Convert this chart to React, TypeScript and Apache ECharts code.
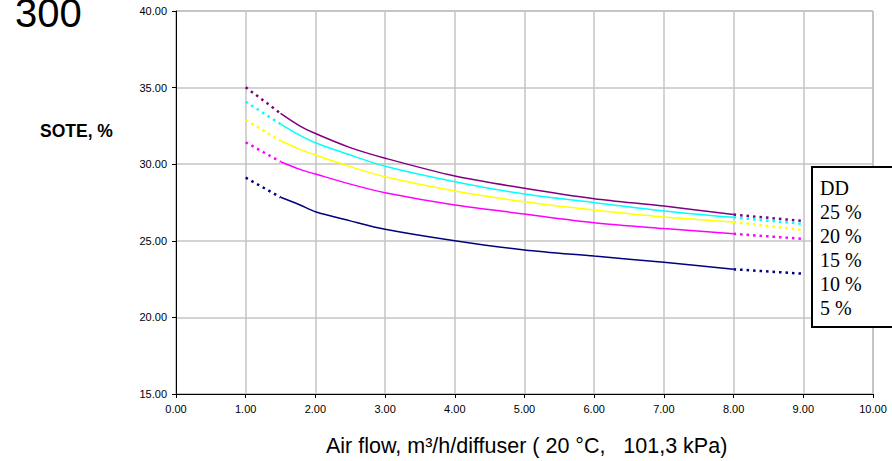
import React, { useEffect, useRef } from "react";
import * as echarts from "echarts";

// Air flow, m3/h/diffuser
const airFlow = [1, 1.5, 1.78, 2, 2.5, 3, 4, 5, 6, 7, 8, 9];
// SOTE, % for each diffuser density (DD)
const dd25 = [35.02, 33.32, 32.49, 32.0, 31.08, 30.39, 29.23, 28.43, 27.75, 27.27, 26.71, 26.29];
const dd20 = [34.08, 32.62, 31.88, 31.4, 30.6, 29.87, 28.86, 28.05, 27.49, 26.95, 26.53, 26.1];
const dd15 = [32.89, 31.53, 30.97, 30.6, 29.84, 29.18, 28.25, 27.55, 27.01, 26.55, 26.23, 25.7];
const dd10 = [31.43, 30.16, 29.66, 29.36, 28.7, 28.14, 27.34, 26.75, 26.18, 25.8, 25.46, 25.12];
const dd5 = [29.12, 27.84, 27.34, 26.9, 26.3, 25.75, 25.0, 24.4, 24.0, 23.6, 23.14, 22.85];

const seriesNames = ["25 %", "20 %", "15 %", "10 %", "5 %"];
const seriesValues = [dd25, dd20, dd15, dd10, dd5];
const seriesColors = ["#800080", "#00FFFF", "#FFFF00", "#FF00FF", "#000080"];
const legendTitle = "DD";
const xTitle = "Air flow, m³/h/diffuser ( 20 °C,   101,3 kPa)";
const yTitle = "SOTE, %";
const cornerTitle = "300";

// index ranges: dotted start, solid middle, dotted end
const solidFrom = 1;
const solidTo = 10;

export default function App() {
  const ref = useRef<HTMLDivElement>(null);
  useEffect(() => {
    if (!ref.current) return;
    const chart = echarts.init(ref.current, null, { renderer: "svg" });
    const series: any[] = [];
    seriesValues.forEach((vals, i) => {
      const pts = airFlow.map((x, j) => [x, vals[j]]);
      const color = seriesColors[i];
      series.push({
        type: "line",
        name: seriesNames[i] + " a",
        data: pts.slice(0, solidFrom + 1),
        showSymbol: false,
        lineStyle: { color, width: 2.5, type: [2.5, 4] },
      });
      series.push({
        type: "line",
        name: seriesNames[i],
        data: pts.slice(solidFrom, solidTo + 1),
        showSymbol: false,
        smooth: 0.3,
        lineStyle: { color, width: 1.5 },
      });
      series.push({
        type: "line",
        name: seriesNames[i] + " b",
        data: pts.slice(solidTo),
        showSymbol: false,
        lineStyle: { color, width: 2.5, type: [2.5, 4] },
      });
    });

    const legendTexts = [legendTitle, ...seriesNames].map((t, k) => ({
      type: "text",
      left: 820,
      top: 178 + k * 24,
      z: 101,
      style: {
        text: t,
        fill: "#000",
        font: "20px 'Liberation Serif', 'Times New Roman', serif",
      },
    }));

    chart.setOption({
      animation: false,
      backgroundColor: "#fff",
      grid: {
        left: 176,
        right: 19,
        top: 11,
        bottom: 67,
        show: true,
        borderColor: "#8c8c8c",
        borderWidth: 1,
      },
      xAxis: {
        type: "value",
        min: 0,
        max: 10,
        interval: 1,
        axisLine: { show: true, lineStyle: { color: "#000", width: 1 } },
        axisTick: { show: true, length: 4, lineStyle: { color: "#000" } },
        axisLabel: {
          color: "#000",
          fontSize: 11,
          fontFamily: "'Liberation Sans', Arial, sans-serif",
          margin: 9,
          formatter: (v: number) => v.toFixed(2),
        },
        splitLine: { show: true, lineStyle: { color: "#c4c4c4", width: 1.5 } },
      },
      yAxis: {
        type: "value",
        min: 15,
        max: 40,
        interval: 5,
        axisLine: { show: true, lineStyle: { color: "#000", width: 1 } },
        axisTick: { show: true, length: 4, lineStyle: { color: "#000" } },
        axisLabel: {
          color: "#000",
          fontSize: 11,
          fontFamily: "'Liberation Sans', Arial, sans-serif",
          margin: 9,
          formatter: (v: number) => v.toFixed(2),
        },
        splitLine: { show: true, lineStyle: { color: "#c4c4c4", width: 1.5 } },
      },
      series,
      graphic: [
        {
          type: "text",
          left: 15,
          top: -7,
          style: {
            text: cornerTitle,
            fill: "#000",
            font: "40px 'Liberation Sans', Arial, sans-serif",
          },
        },
        {
          type: "text",
          left: 40,
          top: 122,
          style: {
            text: yTitle,
            fill: "#000",
            font: "bold 17.5px 'Liberation Sans', Arial, sans-serif",
          },
        },
        {
          type: "text",
          left: 326,
          top: 435,
          style: {
            text: xTitle,
            fill: "#000",
            font: "21.5px 'Liberation Sans', Arial, sans-serif",
          },
        },
        {
          type: "rect",
          shape: { x: 812, y: 167, width: 100, height: 160 },
          z: 100,
          style: { fill: "#fff", stroke: "#000", lineWidth: 2 },
        },
        ...legendTexts,
      ],
    });
    return () => chart.dispose();
  }, []);
  return (
    <div
      ref={ref}
      style={{ position: "fixed", left: 0, top: 0, width: 892, height: 461 }}
    />
  );
}
